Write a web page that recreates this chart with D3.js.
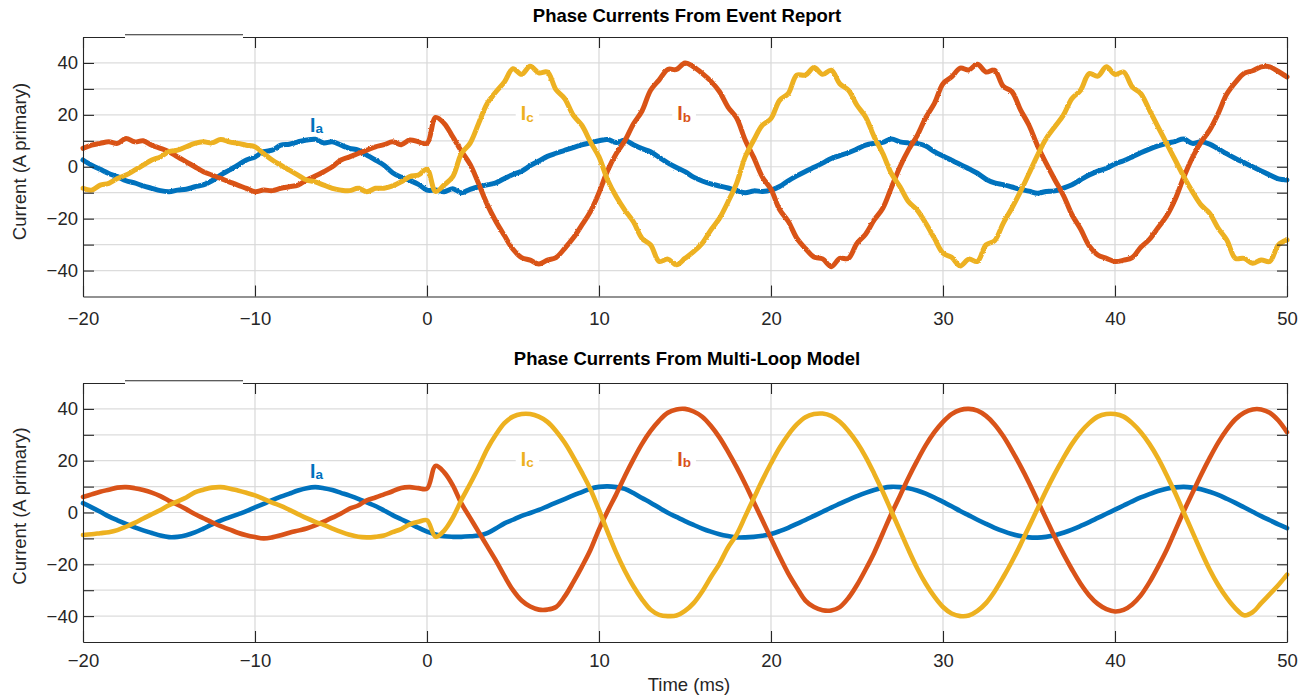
<!DOCTYPE html>
<html>
<head>
<meta charset="utf-8">
<script src="https://cdn.jsdelivr.net/npm/d3@7"></script>
<style>
  body { margin: 0; background: #fff; }
  svg { display: block; font-family: "Liberation Sans", Arial, Helvetica, sans-serif; }
</style>
</head>
<body>
<div id="container"></div>
<script>
/* CONSTANTS AND GLOBALS */
const width = 1306;
const height = 698;

// sample grid of the recordings: every 0.5 ms from -20 to 50 ms
const timeMs = d3.range(-20, 50.001, 0.5);

const xTicks = [-20, -10, 0, 10, 20, 30, 40, 50];
const yTicks = [-40, -30, -20, -10, 0, 10, 20, 30, 40];
const yLabelled = [-40, -20, 0, 20, 40];

const titles = ["Phase Currents From Event Report", "Phase Currents From Multi-Loop Model"];
const phaseNames = ["a", "b", "c"];

/* DATA: event report (rows of 5 ms) */
const eventIa = [
  2.6, 0.6, -1.0, -2.6, -3.8, -5.4, -6.2, -7.4, -8.3, -9.2,
  -9.6, -9.0, -8.7, -7.7, -7.0, -5.4, -3.2, -1.3, 0.6, 2.6,
  3.8, 5.8, 6.4, 8.3, 8.7, 9.6, 10.3, 10.6, 9.2, 9.6,
  8.3, 7.1, 6.4, 4.5, 2.6, 0.6, -2.3, -4.0, -5.3, -6.8,
  -9.0, -9.0, -9.6, -8.5, -10.0, -8.7, -7.7, -7.0, -6.2, -4.5,
  -3.0, -1.7, 0.4, 2.2, 4.0, 5.2, 6.3, 7.4, 8.4, 9.2,
  10.0, 10.5, 9.3, 10.2, 8.5, 7.0, 5.8, 3.6, 1.5, -0.3,
  -1.9, -4.0, -5.5, -6.6, -7.4, -8.2, -9.2, -10.0, -9.3, -9.5,
  -9.0, -7.6, -5.4, -3.5, -1.8, -0.2, 1.4, 3.2, 4.3, 5.4,
  6.8, 8.3, 9.0, 9.4, 10.7, 9.6, 9.2, 9.0, 8.0, 5.8,
  4.1, 2.5, 0.9, -0.8, -2.5, -4.8, -6.2, -6.9, -7.8, -8.7,
  -9.4, -10.2, -9.5, -9.3, -8.2, -6.9, -5.0, -3.2, -1.7, -0.6,
  1.1, 2.3, 3.8, 5.4, 6.8, 8.0, 9.0, 9.8, 10.7, 9.0,
  9.6, 8.7, 6.9, 5.0, 3.2, 1.6, 0.0, -1.6, -3.2, -4.7,
  -5.1
];
const eventIb = [
  7.1, 8.3, 9.0, 9.6, 9.0, 10.9, 9.6, 10.0, 8.3, 7.1,
  5.8, 3.8, 1.9, 0.0, -1.9, -3.2, -4.5, -5.8, -7.1, -8.3,
  -9.6, -9.0, -9.2, -8.3, -7.7, -7.1, -5.1, -3.6, -1.9, 0.0,
  2.6, 3.8, 5.1, 6.4, 7.7, 8.5, 9.6, 8.5, 10.3, 9.6,
  9.0, 19.0, 16.7, 11.5, 6.0, 1.0, -6.5, -14.5, -21.0, -26.5,
  -31.8, -35.0, -36.0, -37.5, -36.0, -35.0, -31.5, -27.5, -22.5, -17.3,
  -10.0, -1.5, 5.0, 10.0, 16.5, 21.5, 29.5, 33.5, 37.5, 37.5,
  40.0, 38.5, 36.0, 33.0, 29.0, 23.0, 18.8, 10.3, 3.5, -4.0,
  -8.7, -16.5, -21.0, -27.5, -31.5, -34.8, -35.5, -38.5, -35.3, -35.3,
  -29.5, -26.0, -20.5, -16.0, -8.0, 0.0, 6.6, 12.0, 19.0, 24.4,
  32.0, 34.6, 38.0, 37.3, 39.5, 36.5, 37.2, 31.0, 29.0, 22.0,
  16.0, 8.0, 1.3, -5.0, -11.0, -18.5, -24.0, -30.5, -34.0, -35.3,
  -36.5, -36.0, -35.0, -31.0, -28.0, -23.5, -19.0, -12.5, -4.0, 3.5,
  9.5, 14.1, 20.5, 28.0, 32.5, 36.0, 37.0, 38.5, 38.5, 36.7,
  34.6
];
const eventIc = [
  -8.3, -9.0, -7.1, -6.4, -4.5, -3.2, -1.3, 0.6, 2.6, 3.8,
  5.8, 6.4, 7.7, 9.0, 9.6, 9.2, 10.5, 9.6, 9.0, 8.3,
  7.7, 5.1, 2.6, 0.6, -1.3, -3.2, -5.1, -5.8, -7.1, -8.3,
  -9.0, -9.2, -8.3, -9.6, -8.3, -8.3, -7.4, -5.8, -3.8, -3.2,
  -1.0, -9.5, -7.0, -3.8, 5.1, 9.0, 16.7, 24.4, 28.8, 32.7,
  37.8, 35.6, 38.7, 36.2, 36.5, 29.7, 26.3, 19.9, 16.0, 9.6,
  3.8, -5.1, -11.5, -16.7, -21.2, -27.6, -30.1, -36.5, -35.6, -37.8,
  -35.3, -32.7, -29.5, -24.4, -19.9, -13.5, -6.4, 3.8, 10.3, 16.0,
  18.6, 25.6, 28.2, 35.3, 35.3, 38.2, 35.6, 37.2, 32.0, 29.5,
  23.7, 19.2, 11.5, 5.1, -2.6, -7.7, -13.5, -16.7, -21.8, -27.6,
  -33.3, -34.9, -38.2, -35.6, -36.5, -30.1, -28.5, -21.8, -16.0, -9.6,
  -2.6, 4.5, 10.9, 15.4, 19.9, 26.3, 29.5, 35.9, 34.9, 38.5,
  35.6, 36.5, 30.8, 28.2, 21.8, 15.4, 9.0, 2.6, -3.8, -9.6,
  -14.7, -17.9, -23.7, -28.2, -35.3, -35.3, -37.2, -35.9, -36.5, -30.1,
  -28.2
];

/* DATA: multi-loop model (rows of 5 ms) */
const modelIa = [
  3.6, 2.0, 0.3, -1.5, -3.0, -4.4, -5.7, -6.9, -7.9, -8.9,
  -9.5, -9.4, -8.8, -7.7, -6.2, -4.6, -3.1, -1.9, -0.7, 0.5,
  2.0, 3.3, 4.8, 6.1, 7.3, 8.5, 9.4, 9.8, 9.4, 8.7,
  7.6, 6.5, 5.3, 3.9, 2.5, 0.8, -1.0, -2.6, -4.2, -5.9,
  -7.4, -8.5, -9.2, -9.4, -9.4, -9.2, -8.9, -8.0, -6.2, -4.2,
  -2.8, -1.3, -0.2, 1.0, 2.4, 3.8, 5.2, 6.6, 7.9, 9.2,
  9.9, 10.1, 9.8, 9.1, 7.5, 5.6, 3.8, 1.8, -0.1, -1.7,
  -3.3, -4.8, -6.2, -7.4, -8.4, -9.1, -9.6, -9.6, -9.4, -9.0,
  -8.3, -7.2, -5.9, -4.4, -2.9, -1.3, 0.3, 1.9, 3.4, 4.9,
  6.3, 7.6, 8.7, 9.5, 9.9, 9.8, 9.4, 8.5, 7.3, 5.8,
  4.1, 2.4, 0.6, -1.1, -2.8, -4.4, -5.9, -7.2, -8.3, -9.1,
  -9.6, -9.7, -9.4, -8.8, -7.8, -6.6, -5.2, -3.7, -2.1, -0.5,
  1.1, 2.7, 4.3, 5.8, 7.1, 8.3, 9.2, 9.7, 9.9, 9.6,
  9.0, 8.0, 6.8, 5.3, 3.7, 2.0, 0.3, -1.4, -3.0, -4.6,
  -6.0
];
const modelIb = [
  6.0, 7.0, 8.0, 8.8, 9.6, 9.8, 9.4, 8.7, 7.7, 6.3,
  4.5, 3.0, 1.3, -0.6, -2.2, -3.8, -5.3, -6.5, -7.8, -8.8,
  -9.5, -10.0, -9.6, -8.8, -7.8, -7.0, -6.2, -5.0, -3.5, -2.0,
  -0.4, 1.5, 2.7, 4.7, 5.8, 7.0, 8.2, 9.5, 9.8, 9.4,
  9.2, 18.0, 15.5, 10.5, 3.5, -2.0, -7.5, -13.0, -18.5, -24.5,
  -30.0, -34.0, -36.3, -37.5, -37.5, -36.5, -32.5, -27.0, -21.0, -14.5,
  -6.5, 0.5, 7.0, 14.0, 20.5, 26.5, 31.5, 35.5, 38.5, 39.8,
  40.0, 39.0, 37.0, 33.5, 29.0, 23.5, 17.5, 11.0, 4.0, -3.0,
  -10.0, -17.0, -23.5, -29.0, -34.0, -36.5, -37.7, -37.8, -36.5, -33.0,
  -28.0, -22.0, -15.5, -8.0, -0.5, 6.5, 13.5, 20.0, 26.0, 31.0,
  35.0, 38.0, 39.6, 40.0, 39.3, 37.3, 34.0, 29.5, 24.0, 18.0,
  11.5, 4.5, -2.5, -9.5, -16.0, -22.0, -27.5, -32.0, -35.3, -37.3,
  -38.2, -37.6, -35.5, -32.0, -27.0, -21.0, -14.5, -7.0, 0.5, 7.5,
  14.5, 21.0, 27.0, 32.0, 36.0, 38.5, 39.8, 39.8, 38.5, 35.5,
  31.0
];
const modelIc = [
  -8.7, -8.4, -8.0, -7.6, -6.8, -5.5, -4.0, -2.3, -0.7, 1.0,
  2.8, 4.3, 5.8, 7.8, 8.8, 9.6, 9.8, 9.3, 8.5, 7.6,
  6.6, 5.3, 3.8, 2.6, 1.0, -0.6, -2.2, -3.6, -4.8, -6.2,
  -7.5, -8.6, -9.4, -9.6, -9.4, -8.9, -7.6, -6.4, -4.6, -3.6,
  -3.0, -9.4, -7.0, -2.0, 4.8, 11.0, 17.5, 24.5, 30.0, 34.5,
  37.0, 38.0, 38.0, 37.0, 35.0, 31.5, 27.0, 21.5, 15.5, 9.0,
  1.0, -7.5, -15.5, -22.5, -28.5, -33.5, -37.5, -39.5, -40.0, -39.8,
  -38.0, -35.0, -30.5, -25.0, -19.8, -13.5, -8.5, -1.5, 5.5, 12.5,
  19.0, 25.0, 30.0, 34.0, 36.8, 38.0, 38.2, 37.3, 35.0, 31.5,
  27.0, 21.5, 15.0, 8.0, 0.5, -7.0, -14.5, -21.5, -27.5, -32.5,
  -36.5, -39.0, -40.0, -39.8, -38.0, -35.0, -30.5, -25.0, -19.0, -12.5,
  -5.5, 1.5, 8.5, 15.0, 21.0, 26.5, 31.0, 34.5, 37.0, 38.0,
  38.0, 37.0, 34.5, 31.0, 26.5, 21.0, 14.5, 7.5, 0.0, -7.5,
  -15.0, -22.0, -28.0, -33.0, -37.0, -39.7, -38.5, -35.0, -31.5, -28.0,
  -24.0
];

// phase colours (a, b, c) and where the phase names sit, in data units [ms, A]
const phaseColors = ["#0072BD", "#D95319", "#EDB120"];
const labelAt = [[-6.8, 13.4], [14.55, 18], [5.45, 18]];

/* LAYOUT */
const xLeft = 83, xRight = 1287;
const panels = [
  { title: titles[0], top: 37, bottom: 296.5, titleY: 22, xPad: 15, ylabY: 161.5,
    series: [eventIa, eventIb, eventIc], fuzzy: true },
  { title: titles[1], top: 383, bottom: 642, titleY: 365, xPad: 11.5, ylabY: 506,
    series: [modelIa, modelIb, modelIc], fuzzy: false }
];

/* CREATE SVG ELEMENT */
const svg = d3.select("#container")
  .append("svg")
  .attr("width", width)
  .attr("height", height);

// rough edge for the sampled (noisy) relay records
const fuzz = svg.append("defs").append("filter")
  .attr("id", "fuzz")
  .attr("filterUnits", "userSpaceOnUse")
  .attr("x", 0).attr("y", 0).attr("width", width).attr("height", height);
fuzz.append("feTurbulence")
  .attr("type", "fractalNoise")
  .attr("baseFrequency", 1.4)
  .attr("numOctaves", 1)
  .attr("seed", 7)
  .attr("result", "noise");
fuzz.append("feDisplacementMap")
  .attr("in", "SourceGraphic")
  .attr("in2", "noise")
  .attr("scale", 2.4)
  .attr("xChannelSelector", "R")
  .attr("yChannelSelector", "G");

// SCALES
const x = d3.scaleLinear().domain([-20, 50]).range([xLeft, xRight]);
const fmt = d3.format("d");

panels.forEach(p => {
  const y = d3.scaleLinear().domain([-50, 50]).range([p.bottom, p.top]);
  const g = svg.append("g");

  // grid
  g.append("g").selectAll("line")
    .data(yTicks)
    .join("line")
      .attr("x1", xLeft).attr("x2", xRight)
      .attr("y1", d => y(d)).attr("y2", d => y(d))
      .attr("stroke", "#dcdcdc")
      .attr("stroke-width", 1.2);
  g.append("g").selectAll("line")
    .data(xTicks.slice(1, -1))
    .join("line")
      .attr("x1", d => x(d)).attr("x2", d => x(d))
      .attr("y1", p.top).attr("y2", p.bottom)
      .attr("stroke", "#d8d8d8")
      .attr("stroke-width", 1.2);

  // LINE GENERATOR FUNCTION
  const line = d3.line()
    .x((d, i) => x(timeMs[i]))
    .y(d => y(d))
    .curve(d3.curveCatmullRom.alpha(0.5));

  // DRAW LINE
  const lines = g.append("g");
  if (p.fuzzy) lines.attr("filter", "url(#fuzz)");
  p.series.forEach((vals, k) => {
    lines.append("path")
      .datum(vals)
      .attr("fill", "none")
      .attr("stroke", phaseColors[k])
      .attr("stroke-width", p.fuzzy ? 5 : 4.6)
      .attr("stroke-linejoin", "round")
      .attr("stroke-linecap", "round")
      .attr("d", line);
  });

  // phase names with white boxes
  phaseNames.forEach((nm, k) => {
    const lg = g.append("g");
    const t = lg.append("text")
      .attr("x", x(labelAt[k][0]))
      .attr("y", y(labelAt[k][1]))
      .attr("fill", phaseColors[k])
      .attr("font-weight", "bold")
      .attr("font-size", 19.5);
    t.append("tspan").text("I");
    t.append("tspan").attr("font-size", 13.5).attr("dy", 1.5).text(nm);
    const bb = t.node().getBBox();
    lg.insert("rect", "text")
      .attr("x", bb.x - 5).attr("y", bb.y + 2)
      .attr("width", bb.width + 10).attr("height", bb.height - 3)
      .attr("fill", "#fff");
  });

  // BUILD AND CALL AXES
  const styleAxis = a => {
    a.attr("font-size", 18.5)
      .attr("font-family", "'Liberation Sans', Arial, sans-serif")
      .attr("color", "#262626");
    a.select(".domain").attr("stroke-width", 1.1);
    a.selectAll(".tick line").attr("stroke-width", 1.1);
  };
  g.append("g")
    .attr("transform", `translate(0,${p.bottom})`)
    .call(d3.axisBottom(x).tickValues(xTicks).tickSize(-11).tickSizeOuter(0)
      .tickPadding(p.xPad).tickFormat(fmt))
    .call(styleAxis);
  g.append("g")
    .attr("transform", `translate(0,${p.top})`)
    .call(d3.axisTop(x).tickValues(xTicks).tickSize(-11).tickSizeOuter(0).tickFormat(""))
    .call(styleAxis);
  g.append("g")
    .attr("transform", `translate(${xLeft},0)`)
    .call(d3.axisLeft(y).tickValues(yTicks).tickSize(-11).tickSizeOuter(0)
      .tickPadding(5).tickFormat(d => yLabelled.includes(d) ? fmt(d) : ""))
    .call(styleAxis);
  g.append("g")
    .attr("transform", `translate(${xRight},0)`)
    .call(d3.axisRight(y).tickValues(yTicks).tickSize(-10).tickSizeOuter(0).tickFormat(""))
    .call(styleAxis);

  // leftover edge of a text box over the upper axis line
  g.append("rect")
    .attr("x", 125).attr("y", p.top - 1.2).attr("width", 118).attr("height", 2.6)
    .attr("fill", "#fff");
  g.append("line")
    .attr("x1", 125).attr("x2", 243)
    .attr("y1", p.top - 2.2).attr("y2", p.top - 2.2)
    .attr("stroke", "#262626").attr("stroke-width", 1.1);

  // title
  g.append("text")
    .attr("x", (xLeft + xRight) / 2 + 2)
    .attr("y", p.titleY)
    .attr("text-anchor", "middle")
    .attr("font-weight", "bold")
    .attr("font-size", 18.5)
    .attr("fill", "#000")
    .text(p.title);

  // y label
  g.append("text")
    .attr("transform", "rotate(-90)")
    .attr("x", -p.ylabY)
    .attr("y", 25.5)
    .attr("text-anchor", "middle")
    .attr("font-size", 18.5)
    .attr("fill", "#262626")
    .text("Current (A primary)");
});

// x label
svg.append("text")
  .attr("x", (xLeft + xRight) / 2 + 4)
  .attr("y", 691)
  .attr("text-anchor", "middle")
  .attr("font-size", 18.5)
  .attr("fill", "#262626")
  .text("Time (ms)");
</script>
</body>
</html>
